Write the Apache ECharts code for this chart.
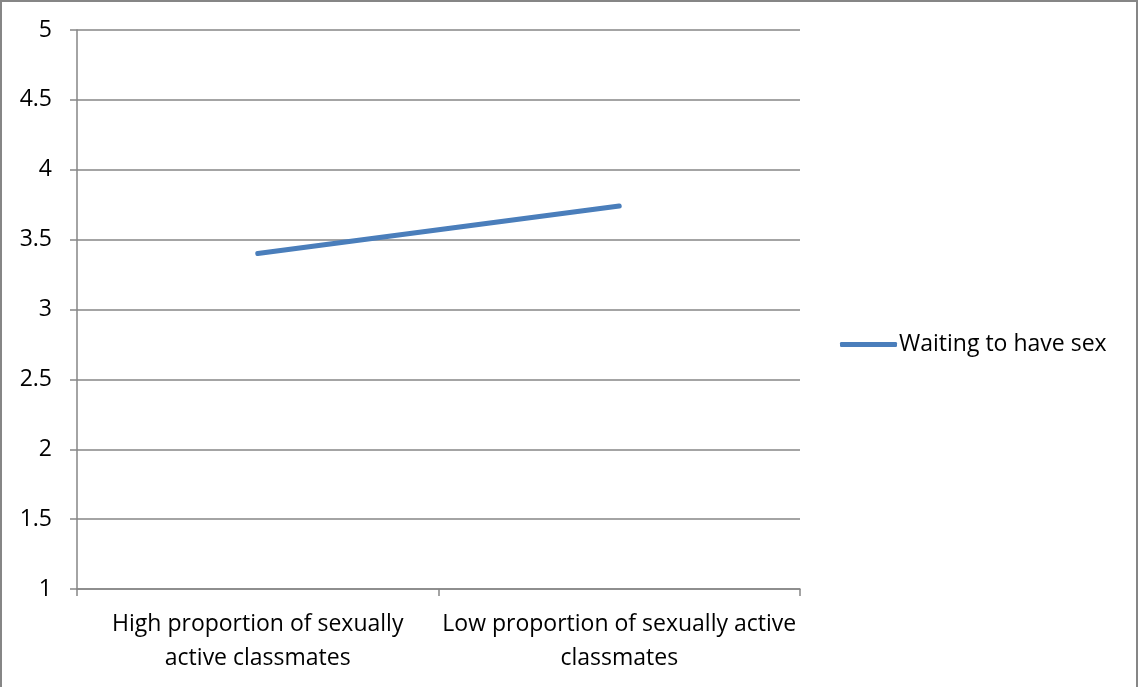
<!DOCTYPE html>
<html>
<head>
<meta charset="utf-8">
<script src="https://cdn.jsdelivr.net/npm/echarts@6/dist/echarts.min.js"></script>
<style>
  html, body { margin: 0; padding: 0; background: #fff; }
  #chart { width: 1138px; height: 687px; }
</style>
</head>
<body>
<div id="chart"></div>
<script>
// Mean score by classroom context
const categories = [
  'High proportion of sexually\nactive classmates',
  'Low proportion of sexually active\nclassmates'
];
const seriesName = 'Waiting to have sex';
const waitingValues = [3.40, 3.74];
const yTicks = [1, 1.5, 2, 2.5, 3, 3.5, 4, 4.5, 5];

const gray = '#868686';
const fontFamily = 'Open Sans, Lato, sans-serif';
const fontSize = 23;

const chart = echarts.init(document.getElementById('chart'), null, { renderer: 'canvas' });
chart.setOption({
  animation: false,
  backgroundColor: '#fff',
  textStyle: { fontFamily: fontFamily, color: '#000' },
  graphic: [{
    type: 'rect',
    shape: { x: 1, y: 1, width: 1136, height: 700 },
    style: { fill: 'none', stroke: gray, lineWidth: 2 },
    silent: true
  }],
  grid: { left: 77, right: 338, top: 30, bottom: 98, containLabel: false },
  legend: {
    orient: 'vertical',
    left: 835,
    top: 328,
    itemWidth: 57,
    itemHeight: 5,
    itemGap: 4,
    data: [{ name: seriesName, icon: 'roundRect' }],
    textStyle: { fontFamily: fontFamily, fontSize: fontSize, color: '#000', padding: [0, 0, 0, -3] }
  },
  xAxis: {
    type: 'category',
    data: categories,
    boundaryGap: true,
    axisLine: { show: true, lineStyle: { color: gray, width: 1.5 } },
    axisTick: { show: true, length: 7, lineStyle: { color: gray, width: 1.5 } },
    axisLabel: {
      color: '#000',
      fontFamily: fontFamily,
      fontSize: fontSize,
      lineHeight: 34,
      margin: 18,
      interval: 0
    },
    splitLine: { show: false }
  },
  yAxis: {
    type: 'value',
    min: yTicks[0],
    max: yTicks[yTicks.length - 1],
    interval: 0.5,
    axisLine: { show: true, lineStyle: { color: gray, width: 1.5 } },
    axisTick: { show: true, length: 7, lineStyle: { color: gray, width: 1.5 } },
    axisLabel: { color: '#000', fontFamily: fontFamily, fontSize: fontSize, margin: 25 },
    splitLine: { show: true, lineStyle: { color: gray, width: 1.5 } }
  },
  series: [{
    name: seriesName,
    type: 'line',
    data: waitingValues,
    symbol: 'none',
    lineStyle: { color: '#4A7EBB', width: 5, cap: 'round' },
    itemStyle: { color: '#4A7EBB' }
  }]
});
</script>
</body>
</html>
